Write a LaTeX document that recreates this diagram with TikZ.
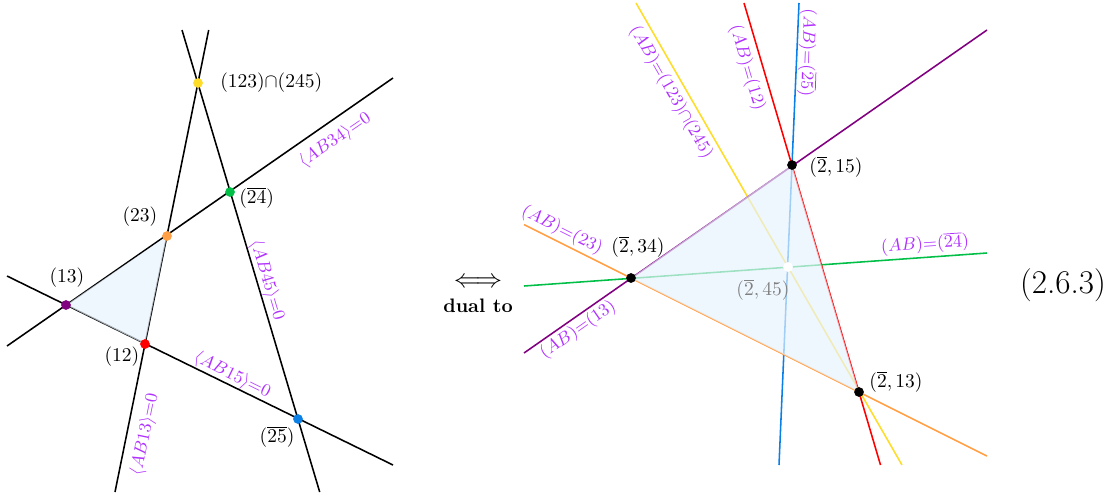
\documentclass[tikz,border=0pt]{standalone}
\usepackage{amsmath}
\usepackage{graphicx}
\begin{document}
\begin{tikzpicture}[x=0.513pt,y=-0.513pt]
\definecolor{lblv}{RGB}{176,48,255}
\definecolor{cpur}{RGB}{128,0,128}
\definecolor{cora}{RGB}{255,160,70}
\definecolor{cred}{RGB}{255,0,0}
\definecolor{cblu}{RGB}{10,128,230}
\definecolor{cyel}{RGB}{255,220,40}
\definecolor{cgrn}{RGB}{0,190,70}
\definecolor{tfill}{RGB}{232,243,253}
\tikzset{
  ln/.style={line width=0.8pt},
  dot/.style={circle,inner sep=0pt,minimum size=5pt},
  lbl/.style={font=\small,text=lblv,inner sep=1pt},
  ptl/.style={inner sep=1pt},
  tri/.style={fill=tfill,fill opacity=0.68,draw=none}
}
\useasboundingbox (0,0) rectangle (1119,495);
% ---------- left ----------
\coordinate (p13) at (66,305);
\coordinate (p12) at (145,344);
\coordinate (p23) at (167,236);
\coordinate (p24) at (230,192);
\coordinate (pY) at (198,83);
\coordinate (p25) at (298,419);
\coordinate (a1) at (7,346); \coordinate (a2) at (393,78);
\coordinate (b1) at (7,276); \coordinate (b2) at (393,465);
\coordinate (c1) at (115,492); \coordinate (c2) at (208.7,30);
\coordinate (d1) at (182,30); \coordinate (d2) at (319.7,492);
\draw[ln] (a1) -- (a2);
\draw[ln] (b1) -- (b2);
\draw[ln] (c1) -- (c2);
\draw[ln] (d1) -- (d2);
\fill[tri] (p13) -- (p12) -- (p23) -- cycle;
\node[dot,fill=cpur] (n13) at (p13) {};
\node[dot,fill=cred] (n12) at (p12) {};
\node[dot,fill=cora] (n23) at (p23) {};
\node[dot,fill=cgrn] (n24) at (p24) {};
\node[dot,fill=cyel] (nY) at (pY) {};
\node[dot,fill=cblu] (n25) at (p25) {};
\node[ptl,anchor=west] (tY) at (218,83) {$(123){\cap}(245)$};
\node[ptl,anchor=west] (t24) at (237,198) {$(\overline{24})$};
\node[ptl] (t23) at (140,217) {$(23)$};
\node[ptl] (t13) at (67,278) {$(13)$};
\node[ptl] (t12) at (122,357) {$(12)$};
\node[ptl] (t25) at (277,437) {$(\overline{25})$};
\node[lbl,rotate=34.6] (l34) at (335,140) {$\langle AB34\rangle{=}0$};
\node[lbl,rotate=-73.4] (l45) at (267,280) {$\langle AB45\rangle{=}0$};
\node[lbl,rotate=-26.2] (l15) at (232,375) {$\langle AB15\rangle{=}0$};
\node[lbl,rotate=78.5] (l13) at (145,435) {$\langle AB13\rangle{=}0$};
% ---------- middle ----------
\node[inner sep=0pt] (arr) at (478,283) {\scalebox{1.35}{$\Longleftrightarrow$}};
\node[inner sep=1pt] (dual) at (478,306) {\textbf{dual to}};
\node[font=\fontsize{17}{20}\selectfont] (eq) at (1063,285) {(2.6.3)};
% ---------- right ----------
\coordinate (q34) at (631,278);
\coordinate (q15) at (792,165);
\coordinate (q13) at (859,392);
\coordinate (q45) at (788,267);
\coordinate (e1) at (524,353); \coordinate (e2) at (987,30);
\coordinate (f1) at (524,224.5); \coordinate (f2) at (987,456);
\coordinate (g1) at (744,3); \coordinate (g2) at (880.5,465);
\coordinate (h1) at (799,3); \coordinate (h2) at (779,465);
\coordinate (k1) at (636,3); \coordinate (k2) at (902,465);
\coordinate (m1) at (524,286); \coordinate (m2) at (987,253);
\draw[ln,cyel] (k1) -- (k2);
\draw[ln,cgrn] (m1) -- (m2);
\draw[ln,cblu] (h1) -- (h2);
\draw[ln,cora] (f1) -- (f2);
\draw[ln,cpur] (e1) -- (e2);
\draw[ln,cred] (g1) -- (g2);
\fill[tri] (q34) -- (q15) -- (q13) -- cycle;
\node[dot,fill=black] (r34) at (q34) {};
\node[dot,fill=black] (r15) at (q15) {};
\node[dot,fill=black] (r13) at (q13) {};
\node[dot,fill=white] (r45) at (q45) {};
\node[ptl] (s34) at (638,247) {$(\overline{2},34)$};
\node[ptl] (s15) at (836,167) {$(\overline{2},15)$};
\node[ptl] (s13) at (896,382) {$(\overline{2},13)$};
\node[ptl,text=gray] (s45) at (763,290) {$(\overline{2},45)$};
\node[lbl,rotate=-26.6] (u23) at (562,230) {$(AB){=}(23)$};
\node[lbl,rotate=35] (u13) at (578,330) {$(AB){=}(13)$};
\node[lbl,rotate=4] (u24) at (925,244) {$(AB){=}(\overline{24})$};
\node[lbl,rotate=-60] (uY) at (671,92) {$(AB){=}(123){\cap}(245)$};
\node[lbl,rotate=-73.5] (u12) at (747,68) {$(AB){=}(12)$};
\node[lbl,rotate=-92] (u25) at (808,53) {$(AB){=}(\overline{25})$};
\end{tikzpicture}
\end{document}
